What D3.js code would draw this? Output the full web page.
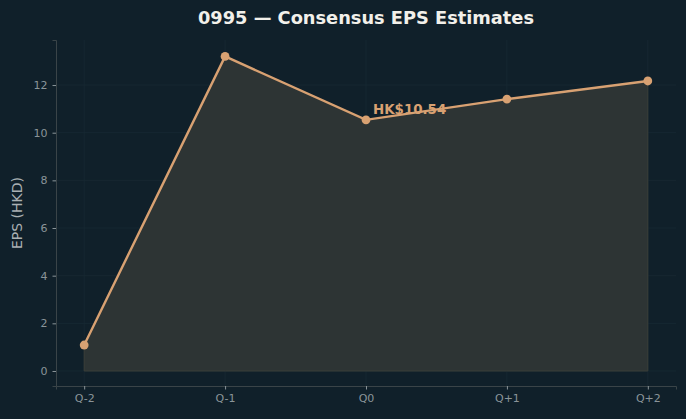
<!DOCTYPE html>
<html>
<head>
<meta charset="utf-8">
<script src="https://cdn.jsdelivr.net/npm/d3@7"></script>
<style>
  body { margin: 0; background: #10202a; }
  svg text { font-family: "DejaVu Sans", sans-serif; }
</style>
</head>
<body>
<svg id="chart" width="686" height="419"></svg>
<script>
var quarters = ["Q-2", "Q-1", "Q0", "Q+1", "Q+2"];
var epsValues = [1.09, 13.2, 10.54, 11.41, 12.17];
var yTicks = [0, 2, 4, 6, 8, 10, 12];

var svg = d3.select("#chart"),
    width = +svg.attr("width"),
    height = +svg.attr("height"),
    margin = {top: 40, right: 10, bottom: 33, left: 56};

var data = quarters.map(function(q, i) { return {q: q, i: i, v: epsValues[i]}; });

svg.append("rect").attr("width", width).attr("height", height).attr("fill", "#10202a");

var x = d3.scaleLinear().domain([-0.2, 4.2]).range([margin.left, width - margin.right]);
var y = d3.scaleLinear().domain([-0.63, 13.89]).range([height - margin.bottom, margin.top]);

// grid
var grid = svg.append("g").attr("stroke", "#182a33").attr("stroke-width", 0.8);
grid.selectAll(".gy").data(yTicks).enter().append("line")
    .attr("x1", margin.left).attr("x2", width - margin.right)
    .attr("y1", function(d) { return y(d); }).attr("y2", function(d) { return y(d); });
grid.selectAll(".gx").data(data).enter().append("line")
    .attr("y1", margin.top).attr("y2", height - margin.bottom)
    .attr("x1", function(d) { return x(d.i); }).attr("x2", function(d) { return x(d.i); });

// area
var area = d3.area()
    .x(function(d) { return x(d.i); })
    .y0(y(0))
    .y1(function(d) { return y(d.v); });

svg.append("path").datum(data)
    .attr("d", area)
    .attr("fill", "#2d3434")
    .attr("stroke", "#3b3f39")
    .attr("stroke-width", 1);

// axes
var xAxis = svg.append("g")
    .attr("transform", "translate(0," + (height - margin.bottom) + ")")
    .call(d3.axisBottom(x).tickValues(data.map(function(d) { return d.i; }))
        .tickFormat(function(i) { return quarters[i]; }).tickSizeOuter(0).tickSize(3.5).tickPadding(5));
var yAxis = svg.append("g")
    .attr("transform", "translate(" + margin.left + ",0)")
    .call(d3.axisLeft(y).tickValues(yTicks).tickSizeOuter(0).tickSize(3.5).tickPadding(5));

[xAxis, yAxis].forEach(function(a) {
    a.select(".domain").attr("stroke", "#3a4448");
    a.selectAll(".tick line").attr("stroke", "#8a9499");
    a.selectAll(".tick text").attr("fill", "#8a9499").attr("font-size", 11)
        .attr("font-family", "DejaVu Sans, sans-serif");
});

// line
var line = d3.line()
    .x(function(d) { return x(d.i); })
    .y(function(d) { return y(d.v); });

svg.append("path").datum(data)
    .attr("d", line)
    .attr("fill", "none")
    .attr("stroke", "#d8a172")
    .attr("stroke-width", 2.4);

svg.selectAll(".dot").data(data).enter().append("circle")
    .attr("cx", function(d) { return x(d.i); })
    .attr("cy", function(d) { return y(d.v); })
    .attr("r", 4.4)
    .attr("fill", "#d8a172");

// annotation
svg.append("text")
    .attr("x", x(2) + 7)
    .attr("y", y(epsValues[2]) - 6)
    .attr("fill", "#d8a172")
    .attr("font-size", 13.4)
    .attr("font-weight", "bold")
    .text("HK$" + epsValues[2].toFixed(2));

// title
svg.append("text")
    .attr("x", (margin.left + width - margin.right) / 2)
    .attr("y", 24)
    .attr("text-anchor", "middle")
    .attr("fill", "#f2f0ea")
    .attr("font-size", 17.8)
    .attr("font-weight", "bold")
    .text("0995 \u2014 Consensus EPS Estimates");

// y label
svg.append("text")
    .attr("transform", "translate(22," + ((margin.top + height - margin.bottom) / 2) + ") rotate(-90)")
    .attr("text-anchor", "middle")
    .attr("fill", "#aab0b3")
    .attr("font-size", 14)
    .text("EPS (HKD)");
</script>
</body>
</html>
